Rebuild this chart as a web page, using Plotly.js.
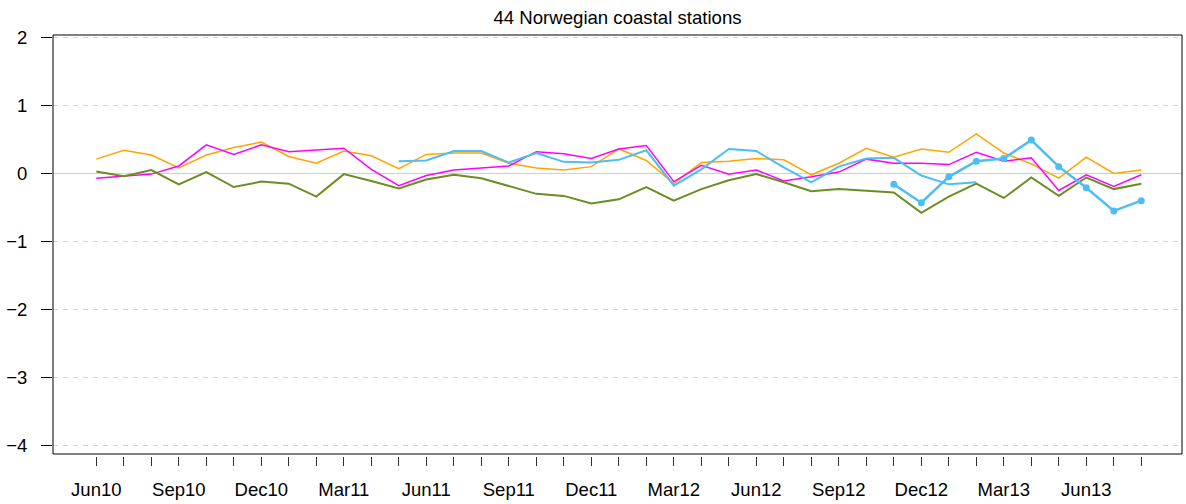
<!DOCTYPE html>
<html>
<head>
<meta charset="utf-8">
<script src="https://cdn.plot.ly/plotly-3.0.1.min.js"></script>
<style>html,body{margin:0;padding:0;background:#fff;}#chart{width:1186px;height:504px;}</style>
</head>
<body>
<div id="chart"></div>
<script>
// Monthly axis (Jun 2010 .. Aug 2013)
const months = ['Jun10','Jul10','Aug10','Sep10','Oct10','Nov10','Dec10','Jan11','Feb11','Mar11','Apr11','May11',
  'Jun11','Jul11','Aug11','Sep11','Oct11','Nov11','Dec11','Jan12','Feb12','Mar12','Apr12','May12',
  'Jun12','Jul12','Aug12','Sep12','Oct12','Nov12','Dec12','Jan13','Feb13','Mar13','Apr13','May13',
  'Jun13','Jul13','Aug13'];
const tickLabels = ['Jun10','Sep10','Dec10','Mar11','Jun11','Sep11','Dec11','Mar12','Jun12','Sep12','Dec12','Mar13','Jun13'];
const yTicks = [2, 1, 0, -1, -2, -3, -4];
const yTickText = ['2', '1', '0', '\u22121', '\u22122', '\u22123', '\u22124'];

// Series values (full period)
const orange = [0.21,0.34,0.27,0.08,0.27,0.38,0.46,0.25,0.15,0.33,0.26,0.07,0.28,0.30,0.30,0.15,0.08,0.05,0.10,0.36,
  0.19,-0.15,0.16,0.18,0.22,0.20,-0.02,0.15,0.37,0.24,0.36,0.31,0.58,0.30,0.14,-0.07,0.24,0.00,0.05];
const magenta = [-0.07,-0.04,-0.01,0.11,0.42,0.28,0.42,0.32,0.34,0.37,0.06,-0.18,-0.03,0.05,0.08,0.11,0.32,0.29,0.22,0.36,
  0.41,-0.12,0.12,-0.01,0.05,-0.11,-0.05,0.02,0.21,0.15,0.15,0.13,0.31,0.18,0.23,-0.25,-0.02,-0.19,-0.02];
const green = [0.03,-0.04,0.05,-0.16,0.02,-0.20,-0.12,-0.15,-0.34,-0.01,-0.11,-0.22,-0.09,-0.02,-0.07,-0.19,-0.30,-0.33,-0.44,-0.38,
  -0.20,-0.40,-0.23,-0.10,-0.01,-0.13,-0.26,-0.23,-0.26,-0.28,-0.58,-0.34,-0.15,-0.36,-0.06,-0.33,-0.06,-0.23,-0.15];
// Partial series
const blueThinStart = 'May11';
const blueThin = [0.18,0.19,0.33,0.33,0.16,0.30,0.17,0.16,0.20,0.34,-0.18,0.06,0.36,0.33,0.09,-0.13,0.10,0.22,0.23,-0.03,-0.16,-0.13];
const blueDotStart = 'Nov12';
const blueDot = [-0.16,-0.43,-0.05,0.18,0.22,0.49,0.10,-0.21,-0.55,-0.40];

const idx = months.map((m, i) => i);
function xsFrom(start, arr) {
  const s = months.indexOf(start);
  return arr.map((v, i) => s + i);
}

const traces = [
  {x: idx, y: orange, mode: 'lines', line: {color: '#FFA500', width: 1.5}, hoverinfo: 'skip'},
  {x: idx, y: magenta, mode: 'lines', line: {color: '#FF00FF', width: 1.5}, hoverinfo: 'skip'},
  {x: idx, y: green, mode: 'lines', line: {color: '#6B8E23', width: 2}, hoverinfo: 'skip'},
  {x: xsFrom(blueThinStart, blueThin), y: blueThin, mode: 'lines', line: {color: '#4DBDF5', width: 2}, hoverinfo: 'skip'},
  {x: xsFrom(blueDotStart, blueDot), y: blueDot, mode: 'lines+markers', line: {color: '#4DBDF5', width: 2.5},
   marker: {color: '#4DBDF5', size: 7}, hoverinfo: 'skip'}
];

const fontFam = '"Liberation Sans", Arial, Helvetica, sans-serif';
const layout = {
  width: 1186, height: 504,
  margin: {l: 53, r: 4, t: 35, b: 48},
  paper_bgcolor: '#fff', plot_bgcolor: '#fff',
  showlegend: false,
  font: {family: fontFam, size: 19, color: '#000'},
  title: {text: '44 Norwegian coastal stations', font: {family: fontFam, size: 18.6, color: '#000'},
          x: 0.5, xref: 'paper', xanchor: 'center', y: 1 - 17/504, yref: 'container', yanchor: 'middle'},
  xaxis: {
    range: [-1.575, 39.48], showgrid: false, zeroline: false, showline: false,
    anchor: 'free', position: 0,
    tickmode: 'array', tickvals: idx,
    ticktext: months.map(m => tickLabels.includes(m) ? m : ''),
    ticks: 'outside', ticklen: 9, tickwidth: 1, tickcolor: '#333',
    ticklabelstandoff: 8,
    tickfont: {family: fontFam, size: 18.5, color: '#000'}
  },
  yaxis: {
    domain: [2/421, 1],
    range: [-4.122, 2.034], showline: false,
    tickmode: 'array', tickvals: yTicks, ticktext: yTickText,
    ticks: 'outside', ticklen: 11, tickwidth: 1, tickcolor: '#000',
    ticklabelstandoff: 10,
    tickfont: {family: fontFam, size: 18.5, color: '#000'},
    showgrid: true, gridcolor: '#d3d3d3', griddash: '5px,5px', gridwidth: 1,
    zeroline: true, zerolinecolor: '#cfcfcf', zerolinewidth: 1
  },
  shapes: [
    {type: 'rect', xref: 'x domain', yref: 'y domain', x0: 0, x1: 1, y0: 0, y1: 1,
     line: {color: '#000', width: 1}, fillcolor: 'rgba(0,0,0,0)', layer: 'above'}
  ]
};

Plotly.newPlot('chart', traces, layout, {staticPlot: true, displayModeBar: false});
</script>
</body>
</html>
